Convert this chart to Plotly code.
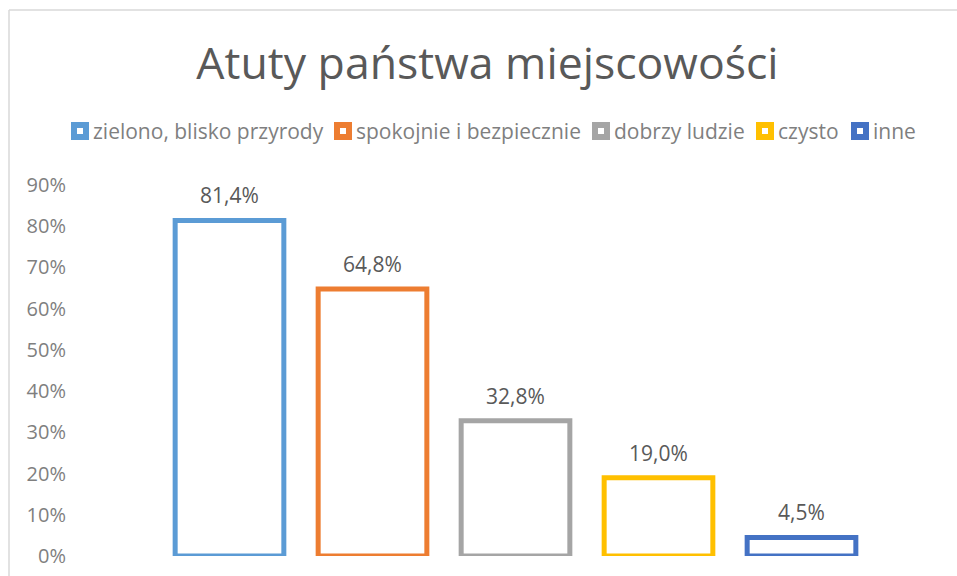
import plotly.graph_objects as go

categories = ["zielono, blisko przyrody", "spokojnie i bezpiecznie", "dobrzy ludzie", "czysto", "inne"]
values = [0.814, 0.648, 0.328, 0.190, 0.045]
colors = ["#5B9BD5", "#ED7D31", "#A5A5A5", "#FFC000", "#4472C4"]
tick_vals = [0, 0.1, 0.2, 0.3, 0.4, 0.5, 0.6, 0.7, 0.8, 0.9]
tick_text = ["0%", "10%", "20%", "30%", "40%", "50%", "60%", "70%", "80%", "90%"]

FONT = "Open Sans"

L, R, T, B = 158, 84, 185, 20
W, H = 957, 576
pw, ph = W - L - R, H - T - B


def px(x):
    return (x - L) / pw


def py(y):
    return (H - B - y) / ph


fig = go.Figure()
for cat, val, col in zip(categories, values, colors):
    fig.add_trace(go.Bar(
        x=[cat], y=[val], name=cat, width=0.76,
        marker=dict(color="white", line=dict(color=col, width=5)),
        hoverinfo="skip", showlegend=False,
    ))
    fig.add_annotation(
        x=cat, y=val, text=(f"{val*100:.1f}%").replace(".", ","),
        showarrow=False, yshift=25, yanchor="middle",
        font=dict(family=FONT, size=21, color="#595959"),
    )

# legend (hollow squares + labels), positioned as in the original
legend_sym_x = [80, 343, 601, 765, 860]
legend_y = 131
for cat, col, sx in zip(categories, colors, legend_sym_x):
    fig.add_shape(type="rect", xref="paper", yref="paper",
                  x0=px(sx - 6), x1=px(sx + 6), y0=py(legend_y - 6), y1=py(legend_y + 6),
                  line=dict(color=col, width=6), fillcolor="white")
    fig.add_annotation(xref="paper", yref="paper", x=px(sx + 11), y=py(legend_y),
                       xanchor="left", yanchor="middle", showarrow=False, text=cat,
                       font=dict(family=FONT, size=21, color="#7F7F7F"))

fig.add_shape(type="line", xref="paper", yref="paper",
              x0=px(9), x1=px(960), y0=py(10), y1=py(10),
              line=dict(color="#D9D9D9", width=1.5))
fig.add_shape(type="line", xref="paper", yref="paper",
              x0=px(9), x1=px(9), y0=py(10), y1=py(580),
              line=dict(color="#D9D9D9", width=1.5))

fig.update_layout(
    width=W, height=H,
    margin=dict(l=L, r=R, t=T, b=B, autoexpand=False),
    paper_bgcolor="white", plot_bgcolor="white",
    barmode="overlay",
    separators=",.",
    title=dict(text="Atuty państwa miejscowości", x=487.5 / W, xref="container", xanchor="center",
               y=1 - 63 / H, yanchor="middle",
               font=dict(family=FONT, size=44.6, color="#595959")),
    xaxis=dict(range=[-0.5, 4.5], showticklabels=False, showgrid=False,
               zeroline=False, showline=False, ticks="", automargin=False),
    yaxis=dict(range=[0, 0.9], tickvals=tick_vals, ticktext=tick_text,
               showgrid=False, zeroline=False, showline=False, ticks="",
               tickfont=dict(family=FONT, size=20, color="#7F7F7F"),
               ticklabelstandoff=91, automargin=False),
    showlegend=False,
)

fig.write_html("out.html", config={"displayModeBar": False},
               post_script="document.body.style.margin='0';")
